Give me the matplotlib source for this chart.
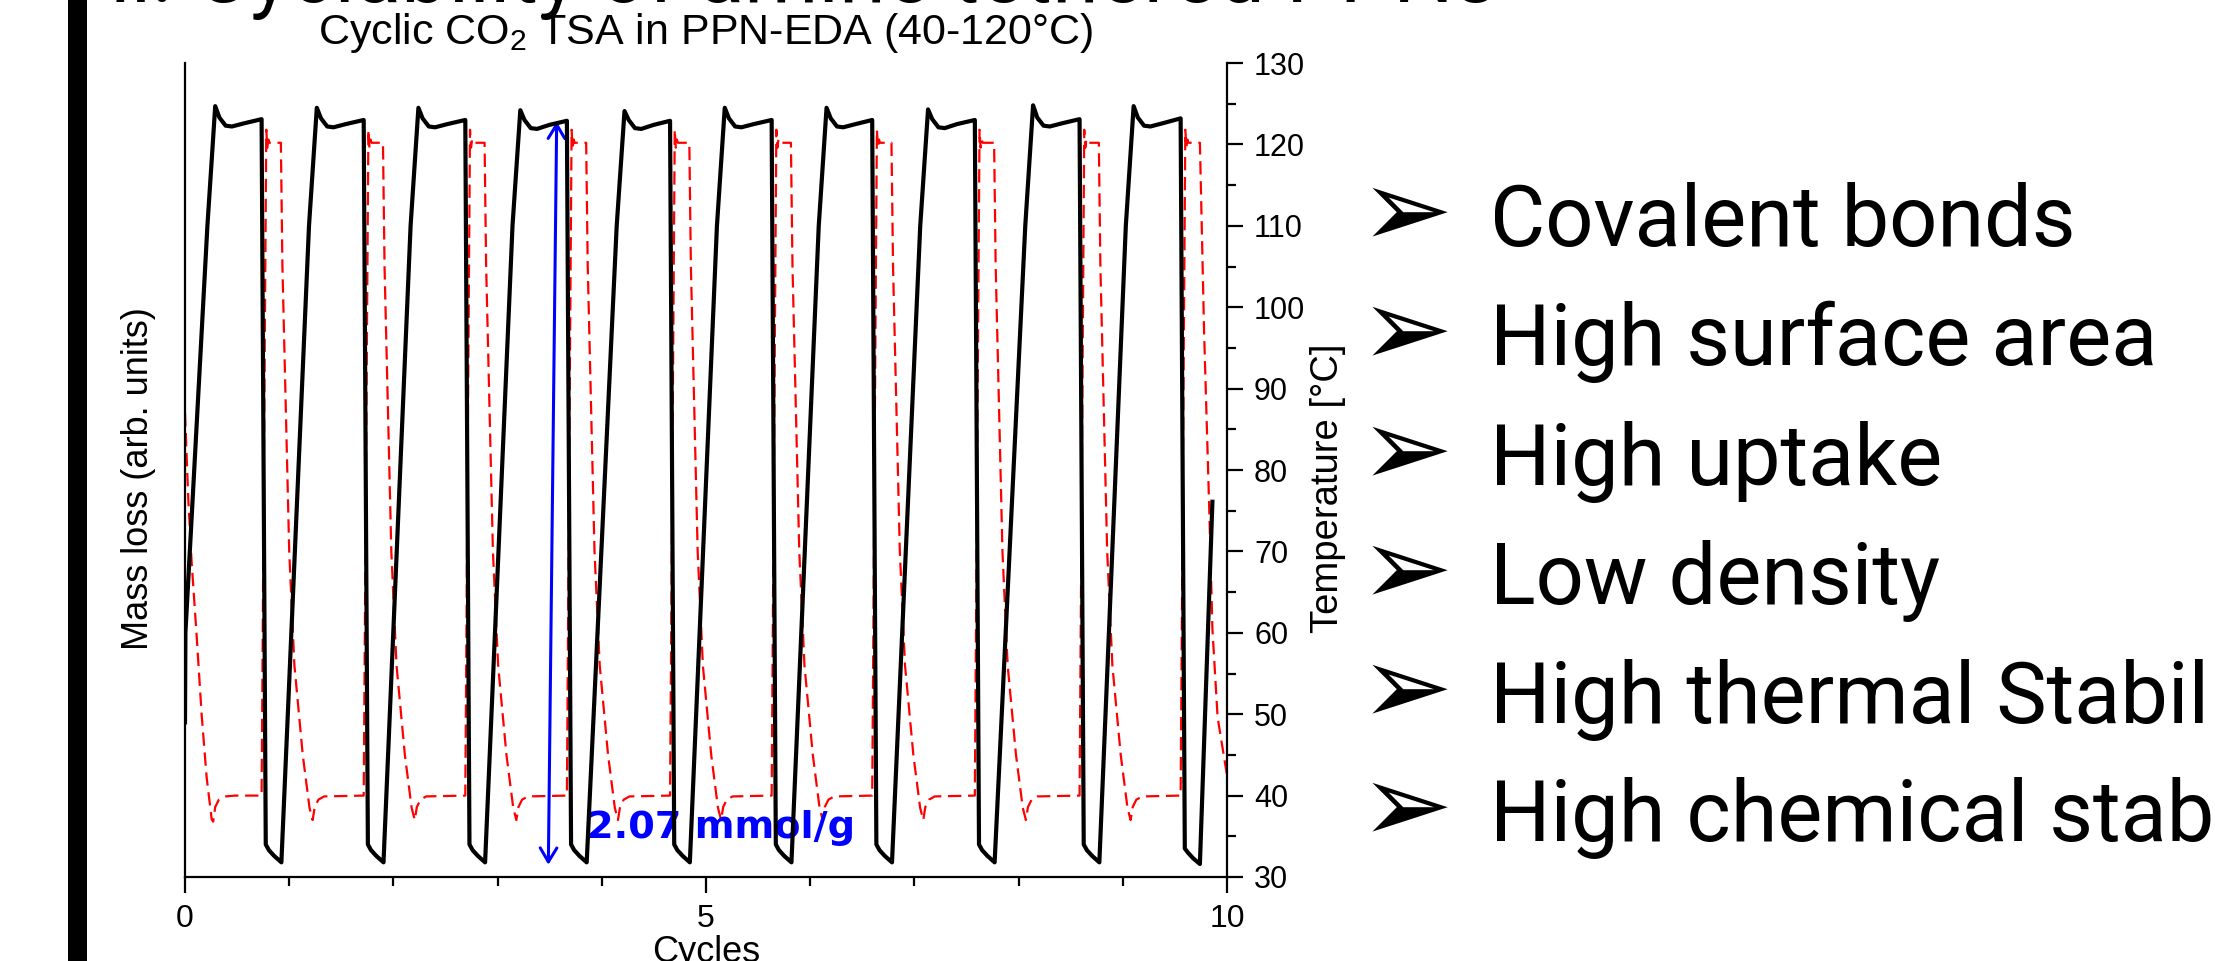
import matplotlib
matplotlib.use("Agg")
import matplotlib.pyplot as plt
from matplotlib.patches import Rectangle

# ---------------- data ----------------
# black trace: mass (arbitrary units, drawn on a 30-130 scale)
mass_t = [0.0, 0.004,
          0.215, 0.29, 0.33, 0.39, 0.45, 0.57, 0.735, 0.775, 0.805, 0.855, 0.925,
          1.19, 1.265, 1.305, 1.365, 1.425, 1.545, 1.715, 1.755, 1.785, 1.835, 1.905,
          2.165, 2.24, 2.28, 2.34, 2.40, 2.52, 2.69, 2.73, 2.76, 2.81, 2.88,
          3.143, 3.218, 3.258, 3.318, 3.378, 3.498, 3.665, 3.705, 3.735, 3.785, 3.855,
          4.143, 4.218, 4.258, 4.318, 4.378, 4.498, 4.655, 4.695, 4.725, 4.775, 4.845,
          5.105, 5.18, 5.22, 5.28, 5.34, 5.46, 5.63, 5.67, 5.70, 5.75, 5.82,
          6.082, 6.157, 6.197, 6.257, 6.317, 6.437, 6.595, 6.635, 6.665, 6.715, 6.785,
          7.056, 7.131, 7.171, 7.231, 7.291, 7.411, 7.58, 7.62, 7.65, 7.70, 7.77,
          8.064, 8.139, 8.179, 8.239, 8.299, 8.419, 8.585, 8.625, 8.655, 8.705, 8.775,
          9.029, 9.104, 9.144, 9.204, 9.264, 9.384, 9.555, 9.595, 9.625, 9.675, 9.74,
          9.86]
mass_val = [49.0, 60.0,
            110, 124.7, 123.3, 122.3, 122.2, 122.6, 123.1, 34.0, 33.3, 32.6, 31.8,
            110, 124.5, 123.2, 122.2, 122.1, 122.5, 123.0, 34.0, 33.3, 32.6, 31.8,
            110, 124.5, 123.2, 122.2, 122.1, 122.5, 123.0, 34.0, 33.3, 32.6, 31.8,
            110, 124.2, 123.0, 122.0, 121.9, 122.4, 122.9, 34.0, 33.3, 32.6, 31.8,
            110, 124.1, 123.0, 122.0, 121.9, 122.4, 122.9, 34.0, 33.3, 32.6, 31.8,
            110, 124.5, 123.2, 122.2, 122.1, 122.5, 123.0, 34.0, 33.3, 32.6, 31.8,
            110, 124.5, 123.2, 122.2, 122.1, 122.5, 123.0, 34.0, 33.3, 32.6, 31.8,
            110, 124.3, 123.1, 122.1, 122.0, 122.5, 123.0, 34.0, 33.3, 32.6, 31.8,
            110, 124.8, 123.3, 122.3, 122.2, 122.6, 123.1, 34.0, 33.3, 32.6, 31.8,
            110, 124.7, 123.3, 122.3, 122.2, 122.6, 123.2, 33.5, 33.0, 32.3, 31.6,
            76.1]

# red dashed trace: temperature [°C]
temp_t = [0.0, 0.032, 0.064, 0.112, 0.16, 0.208, 0.256, 0.27, 0.29, 0.325, 0.39, 0.48,
          0.735, 0.78, 0.79, 0.80, 0.81, 0.92, 0.935, 0.97, 1.00, 1.05, 1.13, 1.195, 1.225, 1.245, 1.28, 1.335,
          1.715, 1.76, 1.77, 1.78, 1.79, 1.90, 1.915, 1.95, 1.98, 2.03, 2.11, 2.175, 2.205, 2.225, 2.26, 2.315,
          2.69, 2.735, 2.745, 2.755, 2.765, 2.875, 2.89, 2.925, 2.955, 3.005, 3.085, 3.15, 3.18, 3.20, 3.235, 3.29,
          3.665, 3.71, 3.72, 3.73, 3.74, 3.85, 3.865, 3.90, 3.93, 3.98, 4.06, 4.125, 4.155, 4.175, 4.21, 4.265,
          4.655, 4.70, 4.71, 4.72, 4.73, 4.84, 4.855, 4.89, 4.92, 4.97, 5.05, 5.115, 5.145, 5.165, 5.20, 5.255,
          5.63, 5.675, 5.685, 5.695, 5.705, 5.815, 5.83, 5.865, 5.895, 5.945, 6.025, 6.09, 6.12, 6.14, 6.175, 6.23,
          6.595, 6.64, 6.65, 6.66, 6.67, 6.78, 6.795, 6.83, 6.86, 6.91, 6.99, 7.055, 7.085, 7.105, 7.14, 7.195,
          7.58, 7.625, 7.635, 7.645, 7.655, 7.765, 7.78, 7.815, 7.845, 7.895, 7.975, 8.04, 8.07, 8.09, 8.125, 8.18,
          8.585, 8.63, 8.64, 8.65, 8.66, 8.77, 8.785, 8.82, 8.85, 8.90, 8.98, 9.045, 9.075, 9.095, 9.13, 9.185,
          9.555, 9.60, 9.61, 9.62, 9.63, 9.74, 9.78, 9.83, 9.86, 9.91, 10.0]
temp_val = [87.0, 76.3, 68.6, 59.6, 49.9, 42.2, 37.1, 36.8, 38.6, 39.5, 39.9, 40.0,
            40, 121.8, 119.6, 120.6, 120.2, 120.2, 105, 86, 70, 56, 45, 38.5, 37.0, 38.6, 39.5, 39.9,
            40, 121.8, 119.6, 120.6, 120.2, 120.2, 105, 86, 70, 56, 45, 38.5, 37.0, 38.6, 39.5, 39.9,
            40, 121.8, 119.6, 120.6, 120.2, 120.2, 105, 86, 70, 56, 45, 38.5, 37.0, 38.6, 39.5, 39.9,
            40, 121.8, 119.6, 120.6, 120.2, 120.2, 105, 86, 70, 56, 45, 38.5, 37.0, 38.6, 39.5, 39.9,
            40, 121.8, 119.6, 120.6, 120.2, 120.2, 105, 86, 70, 56, 45, 38.5, 37.0, 38.6, 39.5, 39.9,
            40, 121.8, 119.6, 120.6, 120.2, 120.2, 105, 86, 70, 56, 45, 38.5, 37.0, 38.6, 39.5, 39.9,
            40, 121.8, 119.6, 120.6, 120.2, 120.2, 105, 86, 70, 56, 45, 38.5, 37.0, 38.6, 39.5, 39.9,
            40, 121.8, 119.6, 120.6, 120.2, 120.2, 105, 86, 70, 56, 45, 38.5, 37.0, 38.6, 39.5, 39.9,
            40, 121.8, 119.6, 120.6, 120.2, 120.2, 105, 86, 70, 56, 45, 38.5, 37.0, 38.6, 39.5, 39.9,
            40, 121.8, 119.6, 120.6, 120.2, 120.2, 97, 75, 60.5, 49.6, 42.5]

x_major = [0, 5, 10]
x_minor = [1, 2, 3, 4, 6, 7, 8, 9]
t_major = [30, 40, 50, 60, 70, 80, 90, 100, 110, 120, 130]
t_minor = [35, 45, 55, 65, 75, 85, 95, 105, 115, 125]

uptake_label = "2.07 mmol/g"
uptake_arrow = [(3.487, 31.5), (3.567, 122.8)]

bullets = ["Covalent bonds", "High surface area", "High uptake",
           "Low density", "High thermal Stability", "High chemical stability"]
slide_title = "ii. Cyclability of amine tethered PPNs"

# ---------------- figure ----------------
plt.rcParams['font.family'] = ['Liberation Sans', 'DejaVu Sans']
plt.rcParams['mathtext.fontset'] = 'custom'
plt.rcParams['mathtext.rm'] = 'Liberation Sans'
plt.rcParams['mathtext.it'] = 'Liberation Sans:italic'
plt.rcParams['mathtext.bf'] = 'Liberation Sans:bold'

W, H = 2215, 961
fig = plt.figure(figsize=(W / 100, H / 100), dpi=100)
fig.patch.set_facecolor('white')

ax = fig.add_axes([185 / W, (H - 877) / H, 1042 / W, 814 / H])
ax2 = ax.twinx()

ax.plot(mass_t, mass_val, color='black', lw=3.0, solid_joinstyle='round', zorder=3)
ax2.plot(temp_t, temp_val, color='#ff0000', lw=1.6, dashes=(6, 3), zorder=2)

ax.set_xlim(0, 10)
ax.set_ylim(30, 130)
ax2.set_ylim(30, 130)

# bring mass trace above temperature trace
ax.set_zorder(ax2.get_zorder() + 1)
ax.patch.set_visible(False)

for s in ['top', 'right']:
    ax.spines[s].set_visible(False)
for s in ['top', 'left', 'bottom']:
    ax2.spines[s].set_visible(False)
for s in ['left', 'bottom']:
    ax.spines[s].set_linewidth(1.6)
ax2.spines['right'].set_linewidth(1.6)

ax.set_xticks(x_major)
ax.set_xticks(x_minor, minor=True)
ax.set_xticklabels([str(v) for v in x_major])
ax.tick_params(axis='x', which='major', direction='out', length=11.5, width=1.6,
               labelsize=23, pad=8)
ax.tick_params(axis='x', which='minor', direction='out', length=6.5, width=1.6)
ax.tick_params(axis='y', which='both', left=False, labelleft=False)

ax2.set_yticks(t_major)
ax2.set_yticks(t_minor, minor=True)
ax2.set_yticklabels([str(v) for v in t_major])
ax2.tick_params(axis='y', which='major', direction='out', length=11.5, width=1.6,
                labelsize=22, pad=8)
ax2.tick_params(axis='y', which='minor', direction='out', length=6.5, width=1.6)

ax.set_xlabel('Cycles', fontsize=26)
ax.xaxis.set_label_coords(0.5, -0.071)
ax.set_ylabel('Mass loss (arb. units)', fontsize=26)
ax.yaxis.set_label_coords(-0.028, 0.49)
ax2.set_ylabel('Temperature [°C]', fontsize=27.5)
ax2.yaxis.set_label_coords(1.080, 0.477)

fig.text(706 / W, 1 - 44 / H, r'Cyclic CO$_2$ TSA in PPN-EDA (40-120°C)',
         fontsize=31, ha='center', va='baseline')

# blue double arrow + uptake label
ax2.annotate('', xy=uptake_arrow[1], xytext=uptake_arrow[0],
             arrowprops=dict(arrowstyle='<->,head_length=0.5,head_width=0.3',
                             color='#0000ff', lw=2.2, shrinkA=0, shrinkB=0,
                             mutation_scale=20), zorder=6)
ax2.text(3.855, 34.8, uptake_label, color='#0000ff', fontsize=27.5,
         fontweight='bold', family='DejaVu Sans', ha='left', va='baseline', zorder=7)

# slide decorations: black bar, title, bullet list
fig.patches.append(Rectangle((68 / W, 0), 19 / W, 1, transform=fig.transFigure,
                             facecolor='black', edgecolor='none'))
fig.text(110 / W, 1 - 2 / H, slide_title, fontsize=61, family=['Roboto', 'DejaVu Sans'],
         ha='left', va='baseline')

baselines = [246, 365, 485, 604, 723, 841]
for txt, yb in zip(bullets, baselines):
    fig.text(1406 / W, 1 - (yb - 30) / H, '\u27a2', fontsize=80, family=['DejaVu Sans'],
             ha='center', va='center')
    fig.text(1490 / W, 1 - yb / H, txt, fontsize=61, family=['Roboto', 'DejaVu Sans'],
             ha='left', va='baseline')

fig.savefig('out.png', dpi=100)
